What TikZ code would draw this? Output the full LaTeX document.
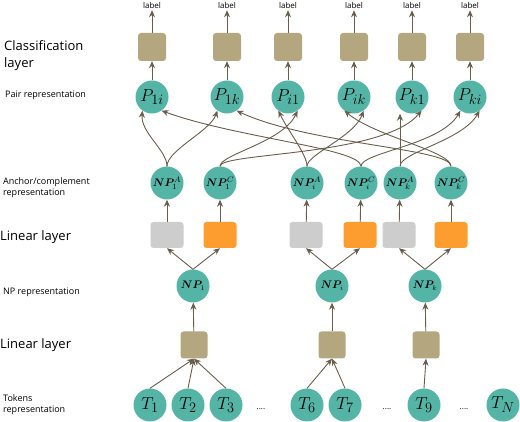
\documentclass[tikz,border=0pt]{standalone}
\usepackage[no-math]{fontspec}
\setmainfont{Open Sans}
\usepackage{bm}
\usetikzlibrary{arrows.meta}
\definecolor{tealc}{HTML}{54B5A7}
\definecolor{beigec}{HTML}{B4A780}
\definecolor{grayc}{HTML}{CDCDCD}
\definecolor{orangec}{HTML}{FE9D2F}
\definecolor{linec}{HTML}{6A5D4B}
\begin{document}
\begin{tikzpicture}[x=1pt,y=1pt,
  arr/.style={draw=linec, line width=0.9pt, -{Stealth[length=7pt,width=6pt]}},
  circ/.style={circle, fill=tealc, minimum size=33pt, inner sep=0pt},
  pnode/.style={circ, font=\fontsize{19}{19}\selectfont},
  tnode/.style={circ, font=\fontsize{19}{19}\selectfont},
  acnode/.style={circ, font=\fontsize{11}{11}\selectfont},
  npnode/.style={circ, font=\fontsize{10.5}{10.5}\selectfont},
  clsbox/.style={rectangle, rounded corners=3pt, fill=beigec, minimum width=28pt, minimum height=28pt, inner sep=0pt},
  linbox/.style={rectangle, rounded corners=3pt, fill=beigec, minimum width=27pt, minimum height=27pt, inner sep=0pt},
  graybox/.style={rectangle, rounded corners=3pt, fill=grayc, minimum width=33pt, minimum height=26pt, inner sep=0pt},
  orbox/.style={rectangle, rounded corners=3pt, fill=orangec, minimum width=33pt, minimum height=26pt, inner sep=0pt},
  lbl/.style={font=\fontsize{8}{8}\selectfont, inner sep=1pt},
  bigtxt/.style={font=\fontsize{13}{17}\selectfont, anchor=west, align=left, inner sep=0pt},
  smalltxt/.style={font=\fontsize{9}{11}\selectfont, anchor=west, align=left, inner sep=0pt},
  dots/.style={font=\fontsize{8}{8}\selectfont, inner sep=0pt}
]
\useasboundingbox (0,0) rectangle (520,422);

% left labels
\node[bigtxt] (tcls) at (4,366.5) {Classification\\layer};
\node[smalltxt] (tpair) at (5,327) {Pair representation};
\node[smalltxt] (tanc) at (3,234.5) {Anchor/complement\\representation};
\node[bigtxt] (tlin1) at (0,185) {Linear layer};
\node[smalltxt] (tnp) at (3,130) {NP representation};
\node[bigtxt] (tlin2) at (0,77) {Linear layer};
\node[smalltxt] (ttok) at (3,17.5) {Tokens\\representation};

% pair row, classification boxes, labels
\foreach \n/\x in {1i/152,1k/227,i1/288,ik/354,k1/412,ki/470}{
  \node[pnode] (P\n) at (\x,325) {$P_{\n}$};
  \node[clsbox] (C\n) at (\x,375) {};
  \node[lbl] (L\n) at (\x,416) {label};
  \draw[arr] (P\n) -- (C\n);
  \draw[arr] (C\n) -- (L\n);
}

% anchor / complement nodes
\node[acnode] (NP1A) at (167,239) {$\bm{NP}^{A}_{1}$};
\node[acnode] (NP1C) at (220,239) {$\bm{NP}^{C}_{1}$};
\node[acnode] (NPiA) at (307,239) {$\bm{NP}^{A}_{i}$};
\node[acnode] (NPiC) at (361,239) {$\bm{NP}^{C}_{i}$};
\node[acnode] (NPkA) at (400,239) {$\bm{NP}^{A}_{k}$};
\node[acnode] (NPkC) at (451,239) {$\bm{NP}^{C}_{k}$};

% linear boxes (anchor/complement)
\node[graybox] (G1) at (167,187) {};
\node[orbox] (O1) at (220,187) {};
\node[graybox] (Gi) at (306,187) {};
\node[orbox] (Oi) at (360,187) {};
\node[graybox] (Gk) at (399,187) {};
\node[orbox] (Ok) at (451,187) {};
\draw[arr] (G1) -- (NP1A);
\draw[arr] (O1) -- (NP1C);
\draw[arr] (Gi) -- (NPiA);
\draw[arr] (Oi) -- (NPiC);
\draw[arr] (Gk) -- (NPkA);
\draw[arr] (Ok) -- (NPkC);

% NP nodes
\node[npnode] (NP1) at (193,136) {$\bm{NP}_{1}$};
\node[npnode] (NPi) at (332,136) {$\bm{NP}_{i}$};
\node[npnode] (NPk) at (425,136) {$\bm{NP}_{k}$};
\draw[arr] (NP1.north) -- (G1.south);
\draw[arr] (NP1.north) -- (O1.south);
\draw[arr] (NPi.north) -- (Gi.south);
\draw[arr] (NPi.north) -- (Oi.south);
\draw[arr] (NPk.north) -- (Gk.south);
\draw[arr] (NPk.north) -- (Ok.south);

% NP linear boxes
\node[linbox] (B1) at (194,77) {};
\node[linbox] (Bi) at (332,77) {};
\node[linbox] (Bk) at (426,77) {};
\draw[arr] (B1) -- (NP1);
\draw[arr] (Bi) -- (NPi);
\draw[arr] (Bk) -- (NPk);

% tokens
\node[tnode] (T1) at (150,17) {$T_1$};
\node[tnode] (T2) at (188,17) {$T_2$};
\node[tnode] (T3) at (226,17) {$T_3$};
\node[dots] (d1) at (261,13) {....};
\node[tnode] (T6) at (307,17) {$T_6$};
\node[tnode] (T7) at (345,17) {$T_7$};
\node[dots] (d2) at (387,13) {....};
\node[tnode] (T9) at (424,17) {$T_9$};
\node[dots] (d3) at (464,13) {....};
\node[tnode] (TN) at (503,17) {$T_N$};
\draw[arr] (T1.north) -- (B1.south);
\draw[arr] (T2.north) -- (B1.south);
\draw[arr] (T3.north) -- (B1.south);
\draw[arr] (T6.north) -- (Bi.south);
\draw[arr] (T7.north) -- (Bi.south);
\draw[arr] (T9.north) -- (Bk.south);

% crossing connections to pair nodes
\draw[arr] (NP1A.north) to[out=90,in=-95,out distance=16pt,in distance=22pt] (P1i.-125);
\draw[arr] (NP1A.north) to[out=90,in=-110,out distance=16pt,in distance=22pt] (P1k.-125);
\draw[arr] (NPiC.north) to[out=90,in=-20,out distance=18pt,in distance=80pt] (P1i.-55);
\draw[arr] (NPkC.north) to[out=90,in=-25,out distance=18pt,in distance=80pt] (P1k.-55);
\draw[arr] (NPiA.north) to[out=90,in=-65,out distance=12pt,in distance=22pt] (Pi1.-125);
\draw[arr] (NP1C.north) to[out=90,in=-115,out distance=12pt,in distance=35pt] (Pi1.-55);
\draw[arr] (NP1C.north) to[out=90,in=-130,out distance=14pt,in distance=60pt] (Pk1.-55);
\draw[arr] (NPiA.north) to[out=90,in=-110,out distance=12pt,in distance=28pt] (Pik.-55);
\draw[arr] (NPkC.north) to[out=90,in=-40,out distance=15pt,in distance=40pt] (Pik.-125);
\draw[arr] (NPkA.north) -- (NPkA.north |- Pk1.south);
\draw[arr] (NPiC.north) to[out=90,in=-120,out distance=14pt,in distance=40pt] (Pki.-125);
\draw[arr] (NPkA.north) to[out=90,in=-120,out distance=14pt,in distance=35pt] (Pki.-55);
\end{tikzpicture}
\end{document}
